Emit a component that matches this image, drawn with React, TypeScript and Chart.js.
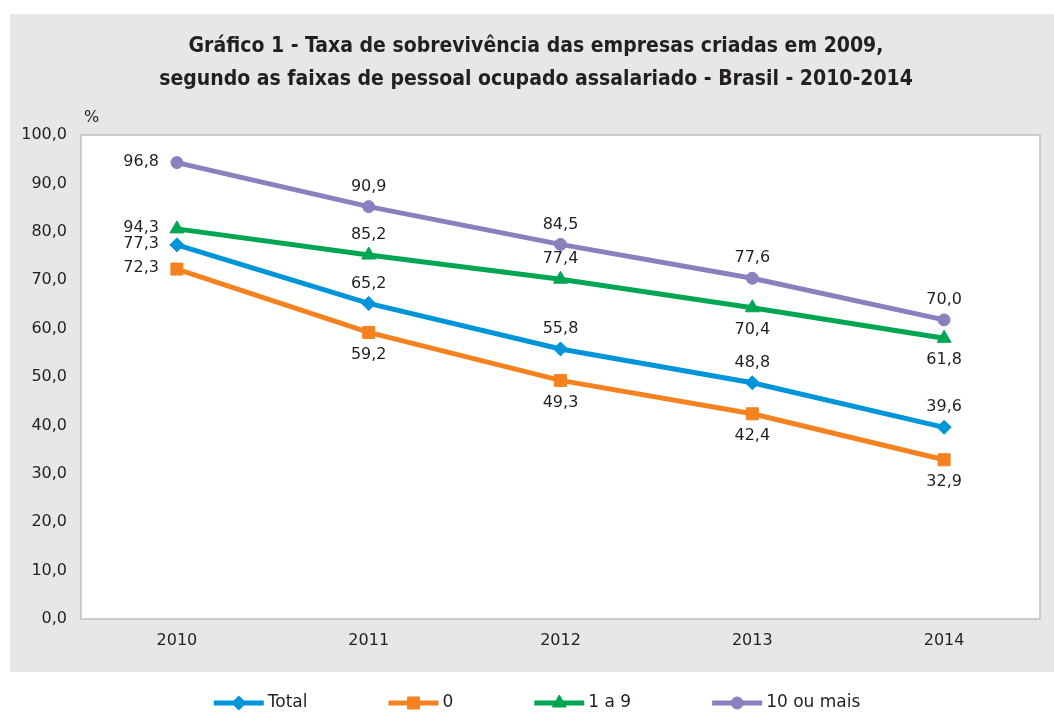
import React, { useEffect, useRef } from 'react';
import { Chart, registerables } from 'chart.js';
import { drawPoint } from 'chart.js/helpers';

Chart.register(...registerables);

// ---- Data ----
const categories = ['2010', '2011', '2012', '2013', '2014'];
const seriesNames = ['Total', '0', '1 a 9', '10 ou mais'];

// plotted positions
const totalValues = [77.3, 65.2, 55.8, 48.8, 39.6];
const zeroValues = [72.3, 59.2, 49.3, 42.4, 32.9];
const oneToNineValues = [80.6, 75.2, 70.2, 64.3, 58.0];
const tenPlusValues = [94.3, 85.2, 77.4, 70.4, 61.8];

// data labels as printed in the reference
const totalLabels = [77.3, 65.2, 55.8, 48.8, 39.6];
const zeroLabels = [72.3, 59.2, 49.3, 42.4, 32.9];
const oneToNineLabels = [94.3, 85.2, 77.4, 70.4, 61.8];
const tenPlusLabels = [96.8, 90.9, 84.5, 77.6, 70.0];

const titleLines = [
  'Gráfico 1 - Taxa de sobrevivência das empresas criadas em 2009,',
  'segundo as faixas de pessoal ocupado assalariado - Brasil - 2010-2014',
];
const unitLabel = '%';

const fmt = (v: number) => v.toFixed(1).replace('.', ',');

const TEXT = '#231f20';
const FONT = "'DejaVu Sans', sans-serif";

const framePlugin = {
  id: 'frame',
  beforeDraw(chart: any) {
    const { ctx, chartArea: a, width, height } = chart;
    ctx.save();
    ctx.fillStyle = '#ffffff';
    ctx.fillRect(0, 0, width, height);
    ctx.fillStyle = '#e6e7e8';
    ctx.fillRect(10, 14, width - 10, 658);
    ctx.fillStyle = '#ffffff';
    ctx.fillRect(a.left, a.top, a.right - a.left, a.bottom - a.top);
    ctx.strokeStyle = '#bcbec0';
    ctx.lineWidth = 1.5;
    ctx.strokeRect(a.left, a.top, a.right - a.left, a.bottom - a.top);
    ctx.restore();
  },
  afterDraw(chart: any) {
    const { ctx, chartArea: a, width } = chart;
    ctx.save();
    // title
    ctx.fillStyle = TEXT;
    ctx.textAlign = 'center';
    ctx.textBaseline = 'middle';
    ctx.font = "bold 21px 'Liberation Sans Narrow', 'DejaVu Sans Condensed', sans-serif";
    ctx.fillText(titleLines[0], 536, 47);
    ctx.fillText(titleLines[1], 536, 80);
    // unit
    ctx.font = `16px ${FONT}`;
    ctx.textAlign = 'left';
    ctx.fillText(unitLabel, a.left + 3, a.top - 17);

    // data labels
    ctx.font = `16px ${FONT}`;
    chart.data.datasets.forEach((ds: any, i: number) => {
      const meta = chart.getDatasetMeta(i);
      meta.data.forEach((pt: any, j: number) => {
        const place = ds.labelPlacement[j];
        const txt = fmt(ds.labelValues[j]);
        ctx.textBaseline = 'middle';
        if (place === 'left') {
          ctx.textAlign = 'right';
          ctx.fillText(txt, pt.x - 18, pt.y - 1);
        } else if (place === 'above') {
          ctx.textAlign = 'center';
          ctx.fillText(txt, pt.x, pt.y - 20);
        } else {
          ctx.textAlign = 'center';
          ctx.fillText(txt, pt.x, pt.y + 22);
        }
      });
    });

    // legend
    ctx.font = `17px ${FONT}`;
    const lineLen = 50;
    const gap = 80;
    const items = chart.data.datasets.map((ds: any) => ({
      ds,
      w: lineLen + 5 + ctx.measureText(ds.label).width,
    }));
    const total = items.reduce((s: number, it: any) => s + it.w, 0) + gap * (items.length - 1);
    let x = width * 0.51 - total / 2;
    const y = 703;
    items.forEach((it: any) => {
      const ds = it.ds;
      ctx.strokeStyle = ds.borderColor;
      ctx.lineWidth = 5;
      ctx.beginPath();
      ctx.moveTo(x, y);
      ctx.lineTo(x + lineLen, y);
      ctx.stroke();
      ctx.fillStyle = ds.borderColor;
      ctx.lineWidth = 1;
      drawPoint(ctx, { pointStyle: ds.pointStyle, radius: ds.pointRadius, rotation: 0, borderWidth: 1 }, x + lineLen / 2, y);
      ctx.fillStyle = TEXT;
      ctx.textAlign = 'left';
      ctx.textBaseline = 'middle';
      ctx.fillText(ds.label, x + lineLen + 4, y);
      x += it.w + gap;
    });
    ctx.restore();
  },
};

export default function App() {
  const ref = useRef<HTMLCanvasElement | null>(null);
  useEffect(() => {
    document.body.style.margin = '0';
    if (!ref.current) return;
    const mk = (label: string, data: number[], labels: number[], color: string, style: string, r: number, placement: string[]) => ({
      label,
      data,
      labelValues: labels,
      labelPlacement: placement,
      borderColor: color,
      backgroundColor: color,
      borderWidth: 5,
      pointStyle: style,
      pointRadius: r,
      pointHoverRadius: r,
      pointBorderWidth: 1,
      pointBackgroundColor: color,
      pointBorderColor: color,
      tension: 0,
    });
    const chart = new Chart(ref.current, {
      type: 'line',
      data: {
        labels: categories,
        datasets: [
          mk(seriesNames[0], totalValues, totalLabels, '#0095d9', 'rectRot', 7, ['left', 'above', 'above', 'above', 'above']),
          mk(seriesNames[1], zeroValues, zeroLabels, '#f58220', 'rect', 8.5, ['left', 'below', 'below', 'below', 'below']),
          mk(seriesNames[2], oneToNineValues, oneToNineLabels, '#00a651', 'triangle', 8, ['left', 'above', 'above', 'below', 'below']),
          mk(seriesNames[3], tenPlusValues, tenPlusLabels, '#8a80be', 'circle', 6, ['left', 'above', 'above', 'above', 'above']),
        ] as any,
      },
      options: {
        animation: false,
        responsive: false,
        devicePixelRatio: 1,
        layout: { padding: { left: 10, right: 14, top: 135, bottom: 54 } },
        plugins: {
          legend: { display: false },
          title: { display: false },
          tooltip: { enabled: false },
        },
        scales: {
          x: {
            offset: true,
            grid: { display: false, drawTicks: false },
            border: { display: false },
            ticks: { padding: 12, color: TEXT, font: { family: FONT, size: 16 } },
            afterFit: (s: any) => { s.height = 40; },
          },
          y: {
            min: 0,
            max: 100,
            grid: { display: false, drawTicks: false },
            border: { display: false },
            ticks: {
              stepSize: 10,
              padding: 14,
              color: TEXT,
              font: { family: FONT, size: 16 },
              callback: (v: any) => fmt(Number(v)),
            },
            afterFit: (s: any) => { s.width = 71; },
          },
        },
      },
      plugins: [framePlugin],
    });
    return () => chart.destroy();
  }, []);
  return (
    <div style={{ width: 1054, height: 713 }}>
      <canvas ref={ref} width={1054} height={713} style={{ display: 'block' }} />
    </div>
  );
}
